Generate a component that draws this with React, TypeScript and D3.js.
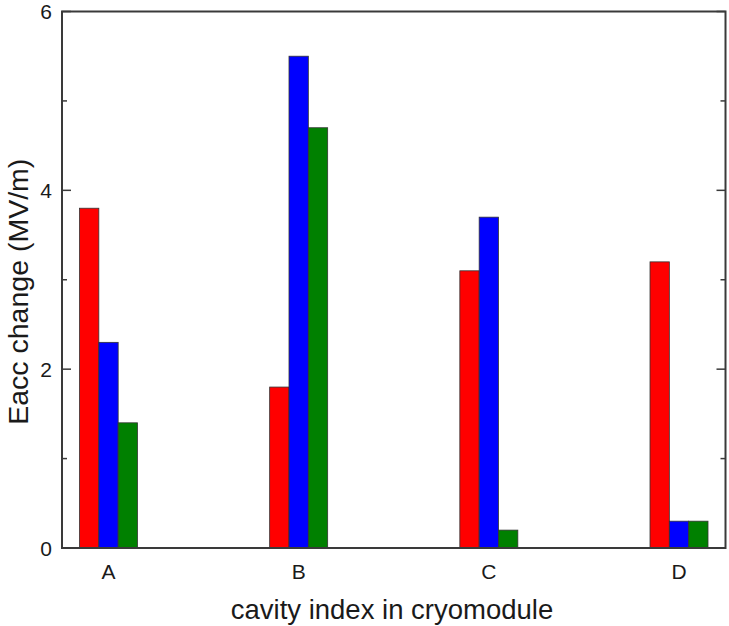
import React from "react";
import * as d3 from "d3";

const categories = ["A", "B", "C", "D"];
const seriesNames = ["s1", "s2", "s3"];
const seriesColors = ["#ff0000", "#0000ff", "#008000"];
const valuesS1 = [3.8, 1.8, 3.1, 3.2];
const valuesS2 = [2.3, 5.5, 3.7, 0.3];
const valuesS3 = [1.4, 4.7, 0.2, 0.3];
const majorTicks = [0, 2, 4, 6];
const minorTicks = [1, 3, 5];
const xTitle = "cavity index in cryomodule";
const yTitle = "Eacc change (MV/m)";

const W = 729;
const H = 626;
const left = 62;
const right = 725.5;
const top = 11.5;
const bottom = 548;

export default function App() {
  const series = [valuesS1, valuesS2, valuesS3];
  const x0 = d3
    .scaleBand<string>()
    .domain(categories)
    .range([left, right])
    .paddingInner(0.695)
    .paddingOuter(0.092);
  const x1 = d3
    .scaleBand<string>()
    .domain(seriesNames)
    .range([0, x0.bandwidth()]);
  const y = d3.scaleLinear().domain([0, 6]).range([bottom, top]);

  const font = "'Liberation Sans', Arial, sans-serif";
  const axisColor = "#3a3a3a";
  const textColor = "#1a1a1a";

  return (
    <svg
      width={W}
      height={H}
      style={{ position: "absolute", left: 0, top: 0, background: "#fff" }}
      fontFamily={font}
    >
      {/* bars */}
      {categories.map((c, ci) => (
        <g key={c} transform={`translate(${x0(c)},0)`}>
          {series.map((vals, si) => (
            <rect
              key={si}
              x={x1(seriesNames[si])}
              y={y(vals[ci])}
              width={x1.bandwidth()}
              height={y(0) - y(vals[ci])}
              fill={seriesColors[si]}
              stroke="#333"
              strokeWidth={0.8}
            />
          ))}
        </g>
      ))}

      {/* frame */}
      <rect
        x={left}
        y={top}
        width={right - left}
        height={bottom - top}
        fill="none"
        stroke={axisColor}
        strokeWidth={2}
      />

      {/* y ticks, inward on both sides */}
      {majorTicks.map((t) => (
        <g key={"M" + t}>
          <line x1={left} x2={left + 9} y1={y(t)} y2={y(t)} stroke={axisColor} strokeWidth={1.5} />
          <line x1={right} x2={right - 9} y1={y(t)} y2={y(t)} stroke={axisColor} strokeWidth={1.5} />
          <text
            x={left - 10}
            y={y(t)}
            textAnchor="end"
            dominantBaseline="central"
            fontSize={21}
            fill={textColor}
          >
            {t}
          </text>
        </g>
      ))}
      {minorTicks.map((t) => (
        <g key={"m" + t}>
          <line x1={left} x2={left + 5} y1={y(t)} y2={y(t)} stroke={axisColor} strokeWidth={1.5} />
          <line x1={right} x2={right - 5} y1={y(t)} y2={y(t)} stroke={axisColor} strokeWidth={1.5} />
        </g>
      ))}

      {/* category labels */}
      {categories.map((c) => (
        <text
          key={"l" + c}
          x={(x0(c) as number) + x0.bandwidth() / 2}
          y={579}
          textAnchor="middle"
          fontSize={21}
          fill={textColor}
        >
          {c}
        </text>
      ))}

      {/* axis titles */}
      <text
        x={392}
        y={619}
        textAnchor="middle"
        fontSize={27.5}
        fill={textColor}
      >
        {xTitle}
      </text>
      <text
        transform={`translate(28, ${(top + bottom) / 2 + 12}) rotate(-90)`}
        textAnchor="middle"
        fontSize={28.5}
        fill={textColor}
      >
        {yTitle}
      </text>
    </svg>
  );
}
